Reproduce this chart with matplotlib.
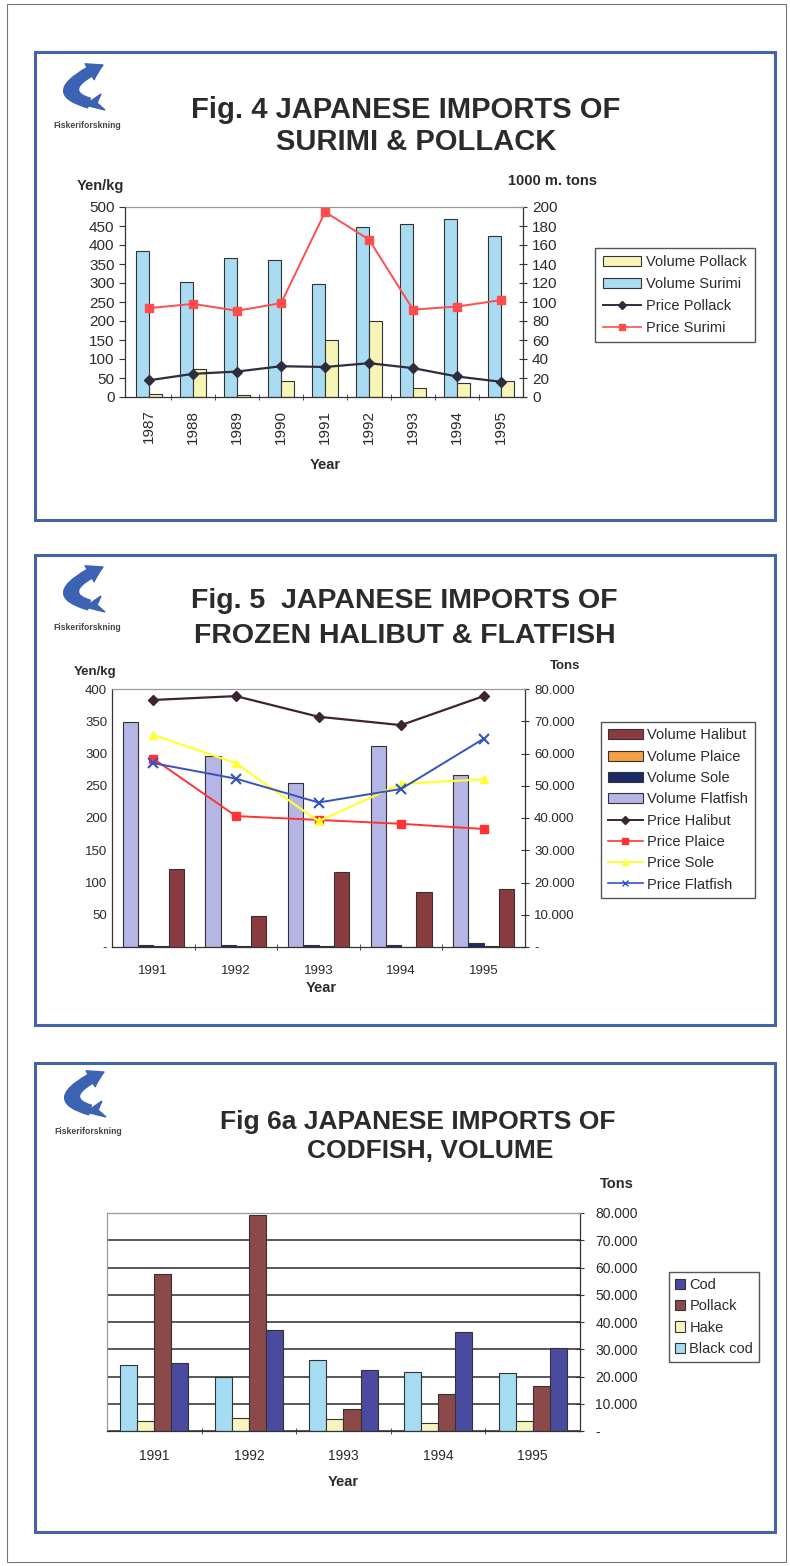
"""Rebuild of the scanned page with Fig. 4, Fig. 5 and Fig 6a (Japanese imports)."""

import matplotlib
matplotlib.use("Agg")
import matplotlib.pyplot as plt
import numpy as np
from matplotlib.patches import Rectangle, FancyArrowPatch, Patch, Polygon
from matplotlib.lines import Line2D
from matplotlib.path import Path
from matplotlib.ticker import FuncFormatter, MultipleLocator

plt.rcParams["font.family"] = ["Liberation Sans", "DejaVu Sans"]

W, H = 790, 1566

# Fig. 4 - surimi & pollack (volume in 1000 m. tons, price in Yen/kg)
years_fig4 = ["1987", "1988", "1989", "1990", "1991", "1992", "1993", "1994", "1995"]
volume_pollack_4 = [3.5, 30, 2.5, 17, 60, 80, 9, 15, 17]
volume_surimi_4 = [154, 121, 146, 144, 119, 179, 182, 187, 170]
price_pollack_4 = [44, 61, 67, 81, 79, 89, 76, 54, 40]
price_surimi_4 = [234, 245, 227, 247, 487, 414, 230, 238, 255]

# Fig. 5 - halibut & flatfish (volume in tons, price in Yen/kg)
years_fig5 = ["1991", "1992", "1993", "1994", "1995"]
volume_halibut = [24300, 9700, 23300, 17000, 17900]
volume_plaice = [200, 200, 200, 150, 250]
volume_sole = [500, 600, 700, 600, 1100]
volume_flatfish = [69800, 59200, 51000, 62200, 53200]
price_halibut = [383, 389, 357, 344, 389]
price_plaice = [292, 203, 197, 191, 183]
price_sole = [329, 285, 195, 253, 260]
price_flatfish = [285, 261, 224, 245, 323]

# Fig 6a - codfish volume (tons)
years_fig6 = ["1991", "1992", "1993", "1994", "1995"]
cod = [24900, 37000, 22400, 36300, 30600]
pollack_6 = [57600, 79200, 8000, 13500, 16500]
hake = [3700, 4700, 4300, 3100, 3700]
black_cod = [24300, 20000, 26100, 21700, 21200]

TXT = "#2b2b2b"
EDGE = "#333333"
LOGO = "#3c62b4"

fig = plt.figure(figsize=(W / 100, H / 100), dpi=100)


def px_rect(x0, y0, x1, y1):
    return [x0 / W, 1 - y1 / H, (x1 - x0) / W, (y1 - y0) / H]


def fp(px, py):
    return (px / W, 1 - py / H)


def fig_text(x, y, s, **kw):
    kw.setdefault("color", TXT)
    fig.text(x / W, 1 - y / H, s, ha=kw.pop("ha", "center"), va=kw.pop("va", "center"), **kw)


def draw_logo(x, y):
    # x, y: pixel centre of the small logo caption
    body = Path([fp(x + 2, y - 22), fp(x - 40, y - 34), fp(x + 16, y - 60)],
                [Path.MOVETO, Path.CURVE3, Path.CURVE3])
    arrow = FancyArrowPatch(path=body,
                            arrowstyle="simple,head_width=1.1,head_length=0.9,tail_width=0.6",
                            mutation_scale=12, color=LOGO, transform=fig.transFigure)
    fig.patches.append(arrow)
    fin = Polygon([fp(x - 2, y - 20), fp(x + 14, y - 31), fp(x + 10, y - 22), fp(x + 18, y - 15)],
                  closed=True, color=LOGO, transform=fig.transFigure)
    fig.patches.append(fin)
    fig_text(x, y, "Fiskeriforskning", fontsize=6.2, fontweight="bold", color="#444")


def tons_fmt(v, _):
    return "-" if v == 0 else f"{v:,.0f}".replace(",", ".")


def style_spines(ax, top="#9a9a9a", left=EDGE, right=EDGE, bottom=EDGE):
    for name, col in (("top", top), ("left", left), ("right", right), ("bottom", bottom)):
        ax.spines[name].set_color(col)
        ax.spines[name].set_linewidth(0.9)


# page and panel frames
fig.patches.append(Rectangle((7 / W, 1 - 1562 / H), 779 / W, 1558 / H, fill=False,
                             edgecolor="#777777", lw=0.8, transform=fig.transFigure))
for y0, y1 in [(52, 520), (555, 1025), (1063, 1532)]:
    fig.patches.append(Rectangle((35 / W, 1 - y1 / H), 740 / W, (y1 - y0) / H, fill=False,
                                 edgecolor="#4463aa", lw=2.2, transform=fig.transFigure))

# ---------------- Fig. 4 ----------------
draw_logo(87, 125)
fig_text(406, 110, "Fig. 4 JAPANESE IMPORTS OF", fontsize=21, fontweight="bold")
fig_text(416, 142, "SURIMI & POLLACK", fontsize=21, fontweight="bold")
fig_text(100, 186, "Yen/kg", fontsize=10.5, fontweight="bold")
fig_text(552, 181, "1000 m. tons", fontsize=10.5, fontweight="bold")
fig_text(325, 465, "Year", fontsize=10.5, fontweight="bold")

x4 = np.arange(len(years_fig4))
bw = 0.3
ax4 = fig.add_axes(px_rect(125, 207, 523, 397))
ax4.bar(x4 - bw / 2, volume_surimi_4, bw, color="#a9dcf3", edgecolor=EDGE, lw=0.8)
ax4.bar(x4 + bw / 2, volume_pollack_4, bw, color="#f7f4b6", edgecolor=EDGE, lw=0.8)
ax4.set_ylim(0, 200)
ax4.set_xlim(-0.55, len(x4) - 0.5)
ax4.yaxis.set_major_locator(MultipleLocator(20))
ax4.set_xticks(x4)
ax4.set_xticklabels(years_fig4, rotation=90)
ax4.set_xticks(x4[:-1] + 0.5, minor=True)
ax4.tick_params(axis="x", which="major", length=0, pad=9, labelsize=11, labelcolor=TXT)
ax4.tick_params(axis="x", which="minor", length=5, direction="inout", color=EDGE)
style_spines(ax4)

ax4p = ax4.twinx()
ax4.yaxis.tick_right()
ax4p.yaxis.tick_left()
ax4.tick_params(axis="y", direction="inout", length=6, labelsize=11, labelcolor=TXT, color=EDGE)
ax4p.plot(x4, price_pollack_4, color="#2d2d3d", lw=1.6, marker="D", ms=5)
ax4p.plot(x4, price_surimi_4, color="#ff4d4d", lw=1.4, marker="s", ms=6)
ax4p.set_ylim(0, 500)
ax4p.yaxis.set_major_locator(MultipleLocator(50))
ax4p.tick_params(axis="y", direction="out", length=4, labelsize=11, labelcolor=TXT, color=EDGE)
for s in ax4p.spines.values():
    s.set_visible(False)

h4 = [Patch(facecolor="#f7f4b6", edgecolor=EDGE, lw=0.8),
      Patch(facecolor="#a9dcf3", edgecolor=EDGE, lw=0.8),
      Line2D([], [], color="#2d2d3d", marker="D", ms=4, lw=1.4),
      Line2D([], [], color="#ff4d4d", marker="s", ms=4, lw=1.2)]
fig.legend(h4, ["Volume Pollack", "Volume Surimi", "Price Pollack", "Price Surimi"],
           loc="center", bbox_to_anchor=(675 / W, 1 - 295 / H), fontsize=10.5,
           frameon=True, fancybox=False, edgecolor="#555", framealpha=1,
           handlelength=2.6, handleheight=0.7, labelspacing=0.55, borderpad=0.5,
           handletextpad=0.4, labelcolor=TXT)

# ---------------- Fig. 5 ----------------
draw_logo(87, 627)
fig_text(404, 601, "Fig. 5  JAPANESE IMPORTS OF", fontsize=20.5, fontweight="bold")
fig_text(405, 636, "FROZEN HALIBUT & FLATFISH", fontsize=20.5, fontweight="bold")
fig_text(95, 672, "Yen/kg", fontsize=9.5, fontweight="bold")
fig_text(565, 666, "Tons", fontsize=9.5, fontweight="bold")
fig_text(321, 988, "Year", fontsize=10.5, fontweight="bold")

x5 = np.arange(len(years_fig5))
bw5 = 0.185
ax5 = fig.add_axes(px_rect(112, 689, 525, 947))
ax5.bar(x5 - 1.5 * bw5, volume_flatfish, bw5, color="#b6b6e6", edgecolor=EDGE, lw=0.8)
ax5.bar(x5 - 0.5 * bw5, volume_sole, bw5, color="#1d2a6a", edgecolor=EDGE, lw=0.8)
ax5.bar(x5 + 0.5 * bw5, volume_plaice, bw5, color="#f5a142", edgecolor=EDGE, lw=0.8)
ax5.bar(x5 + 1.5 * bw5, volume_halibut, bw5, color="#8a3b3f", edgecolor=EDGE, lw=0.8)
ax5.set_ylim(0, 80000)
ax5.set_xlim(-0.5, len(x5) - 0.5)
ax5.yaxis.set_major_locator(MultipleLocator(10000))
ax5.yaxis.set_major_formatter(FuncFormatter(tons_fmt))
ax5.set_xticks(x5)
ax5.set_xticklabels(years_fig5)
ax5.set_xticks(x5[:-1] + 0.5, minor=True)
ax5.tick_params(axis="x", which="major", length=0, pad=13, labelsize=9.5, labelcolor=TXT)
ax5.tick_params(axis="x", which="minor", length=5, direction="inout", color=EDGE)
style_spines(ax5)

ax5p = ax5.twinx()
ax5.yaxis.tick_right()
ax5p.yaxis.tick_left()
ax5.tick_params(axis="y", direction="inout", length=6, labelsize=9.5, labelcolor=TXT, color=EDGE)
ax5p.plot(x5, price_halibut, color="#3d2433", lw=1.6, marker="D", ms=5)
ax5p.plot(x5, price_plaice, color="#ff3333", lw=1.4, marker="s", ms=6)
ax5p.plot(x5, price_sole, color="#ffff33", lw=1.6, marker="^", ms=6)
ax5p.plot(x5, price_flatfish, color="#3355bb", lw=1.4, marker="x", ms=7, mew=1.5)
ax5p.set_ylim(0, 400)
ax5p.yaxis.set_major_locator(MultipleLocator(50))
ax5p.yaxis.set_major_formatter(FuncFormatter(lambda v, _: "-" if v == 0 else f"{v:.0f}"))
ax5p.tick_params(axis="y", direction="out", length=0, labelsize=9.5, labelcolor=TXT)
for s in ax5p.spines.values():
    s.set_visible(False)

h5 = [Patch(facecolor="#8a3b3f", edgecolor=EDGE, lw=0.8),
      Patch(facecolor="#f5a142", edgecolor=EDGE, lw=0.8),
      Patch(facecolor="#1d2a6a", edgecolor=EDGE, lw=0.8),
      Patch(facecolor="#b6b6e6", edgecolor=EDGE, lw=0.8),
      Line2D([], [], color="#3d2433", marker="D", ms=4, lw=1.4),
      Line2D([], [], color="#ff3333", marker="s", ms=4, lw=1.2),
      Line2D([], [], color="#ffff33", marker="^", ms=5, lw=1.4),
      Line2D([], [], color="#3355bb", marker="x", ms=5, lw=1.2)]
fig.legend(h5, ["Volume Halibut", "Volume Plaice", "Volume Sole", "Volume Flatfish",
                "Price Halibut", "Price Plaice", "Price Sole", "Price Flatfish"],
           loc="center", bbox_to_anchor=(678 / W, 1 - 810 / H), fontsize=10.5,
           frameon=True, fancybox=False, edgecolor="#555", framealpha=1,
           handlelength=2.4, handleheight=0.7, labelspacing=0.5, borderpad=0.45,
           handletextpad=0.3, labelcolor=TXT)

# ---------------- Fig 6a ----------------
draw_logo(88, 1132)
fig_text(418, 1122, "Fig 6a JAPANESE IMPORTS OF", fontsize=19, fontweight="bold")
fig_text(430, 1151, "CODFISH, VOLUME", fontsize=19, fontweight="bold")
fig_text(617, 1184, "Tons", fontsize=10.5, fontweight="bold")
fig_text(343, 1482, "Year", fontsize=10.5, fontweight="bold")

x6 = np.arange(len(years_fig6))
bw6 = 0.18
ax6 = fig.add_axes(px_rect(107, 1213, 580, 1431))
ax6.yaxis.grid(True, color="#2a2a2a", lw=1.1)
ax6.set_axisbelow(True)
ax6.bar(x6 - 1.5 * bw6, black_cod, bw6, color="#a6dcf2", edgecolor=EDGE, lw=0.8)
ax6.bar(x6 - 0.5 * bw6, hake, bw6, color="#f8f4bf", edgecolor=EDGE, lw=0.8)
ax6.bar(x6 + 0.5 * bw6, pollack_6, bw6, color="#8c4949", edgecolor=EDGE, lw=0.8)
ax6.bar(x6 + 1.5 * bw6, cod, bw6, color="#4a4a9e", edgecolor=EDGE, lw=0.8)
ax6.set_ylim(0, 80000)
ax6.set_xlim(-0.5, len(x6) - 0.5)
ax6.yaxis.tick_right()
ax6.yaxis.set_major_locator(MultipleLocator(10000))
ax6.yaxis.set_major_formatter(FuncFormatter(tons_fmt))
ax6.tick_params(axis="y", direction="inout", length=6, pad=8, labelsize=10, labelcolor=TXT, color=EDGE)
ax6.set_xticks(x6)
ax6.set_xticklabels(years_fig6)
ax6.set_xticks(x6[:-1] + 0.5, minor=True)
ax6.tick_params(axis="x", which="major", length=0, pad=13, labelsize=10, labelcolor=TXT)
ax6.tick_params(axis="x", which="minor", length=5, direction="inout", color=EDGE)
style_spines(ax6, left="#9a9a9a")

h6 = [Patch(facecolor=c, edgecolor=EDGE, lw=0.8) for c in ("#4a4a9e", "#8c4949", "#f8f4bf", "#a6dcf2")]
fig.legend(h6, ["Cod", "Pollack", "Hake", "Black cod"],
           loc="center", bbox_to_anchor=(714 / W, 1 - 1317 / H), fontsize=10.5,
           frameon=True, fancybox=False, edgecolor="#555", framealpha=1,
           handlelength=0.7, handleheight=0.7, labelspacing=0.5, borderpad=0.4,
           handletextpad=0.3, labelcolor=TXT)

fig.savefig("out.png", dpi=100)
